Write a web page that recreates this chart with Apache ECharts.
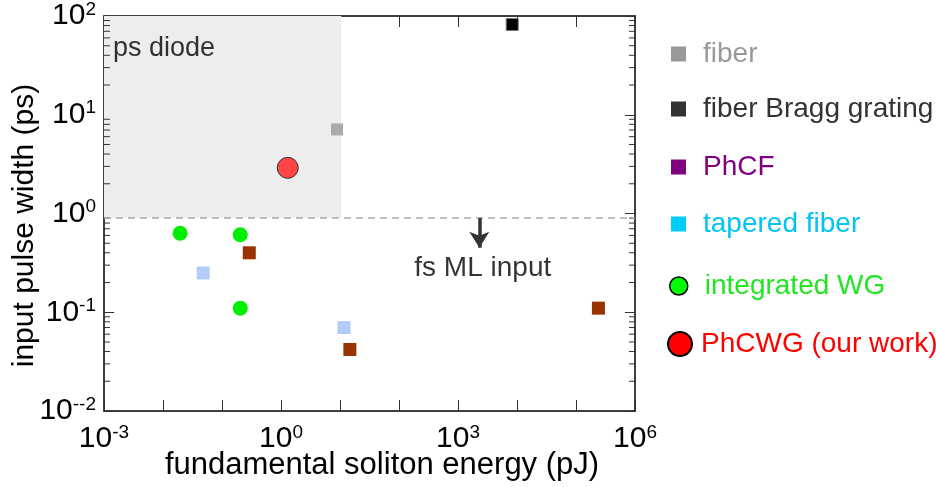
<!DOCTYPE html>
<html>
<head>
<meta charset="utf-8">
<script src="https://cdn.jsdelivr.net/npm/echarts@6/dist/echarts.min.js"></script>
<style>
  html, body { margin: 0; padding: 0; background: #fff; }
  #chart { width: 936px; height: 487px; }
</style>
</head>
<body>
<div id="chart"></div>
<script>
// points are [fundamental soliton energy (pJ), input pulse width (ps)]
var fiber = [[8.9, 7.1]]
var fiberBragg = [[8300, 82]]
var phcf = [[0.29, 0.40], [14.7, 0.042], [2.4e5, 0.11]]
var taperedFiber = [[0.048, 0.25], [11.7, 0.07]]
var integratedWG = [[0.0195, 0.63], [0.204, 0.61], [0.204, 0.11]]
var phcwg = [[1.3, 2.9]]

// annotations
var psDiodeBox = [[0.001, 0.9], [10.5, 100]]
var fsLimit = 0.9
var fsArrow = [[2300, 0.9], [2300, 0.45]]
var notes = [
  { name: 'ps diode', value: [0.00142, 47] },
  { name: 'fs ML input', value: [2630, 0.28] }
]

// tick labels
var xLabelExps = [-3, 0, 3, 6]
var yLabelSups = { '-2': '--2', '-1': '-1', '0': '0', '1': '1', '2': '2' }
var yMinorSteps = [2, 3, 4, 5, 6, 7, 8, 9]
var yDecades = [0.01, 0.1, 1, 10]

var FONT = '"Liberation Sans", Arial, sans-serif'
var INK = '#000'

var yMinorTicks = []
yDecades.forEach(function (d) {
  yMinorSteps.forEach(function (m) { yMinorTicks.push([1, d * m]) })
})

var supRich = {
  b: { fontSize: 30, fontFamily: FONT, color: INK, lineHeight: 32 },
  s: { fontSize: 19, fontFamily: FONT, color: INK, verticalAlign: 'top', lineHeight: 32, padding: [0, 0, 9, 0] }
}

function expOf(v) {
  return Math.round(Math.log(v) / Math.LN10)
}

var legendRows = [
  { name: 'fiber', top: 35, left: 666, size: 15, icon: 'rect', color: '#999999', text: '#999999', pad: 12 },
  { name: 'fiber Bragg grating', top: 90, left: 666, size: 15, icon: 'rect', color: '#333333', text: '#333333', pad: 12 },
  { name: 'PhCF', top: 148, left: 666, size: 15, icon: 'rect', color: '#800080', text: '#800080', pad: 12 },
  { name: 'tapered fiber', top: 205, left: 666, size: 15, icon: 'rect', color: '#00ccff', text: '#00c4f4', pad: 12 },
  { name: 'integrated WG', top: 267, left: 664, size: 18, icon: 'circle', color: '#00ff00', text: '#22e622', pad: 12, border: 1.5 },
  { name: 'PhCWG (our work)', top: 325, left: 662, size: 24, icon: 'circle', color: '#ff0000', text: '#ff0000', pad: 4, border: 2 }
]

var legends = legendRows.map(function (r) {
  return {
    left: r.left,
    top: r.top,
    orient: 'vertical',
    itemWidth: r.size,
    itemHeight: r.size,
    selectedMode: false,
    data: [{
      name: r.name,
      icon: r.icon,
      itemStyle: { color: r.color, borderColor: '#000', borderWidth: r.border || 0 },
      textStyle: { color: r.text, fontSize: 28, fontFamily: FONT, padding: [0, 0, 0, r.pad] }
    }]
  }
})

function baseX(pos) {
  return {
    type: 'log',
    logBase: 10,
    min: 0.001,
    max: 1e6,
    interval: 1,
    position: pos,
    axisLine: { show: true, onZero: false, lineStyle: { color: '#000', width: 1.5 } },
    axisTick: { show: true, inside: true, length: 11, lineStyle: { color: '#333', width: 1 } },
    splitLine: { show: false }
  }
}

function baseY(pos) {
  return {
    type: 'log',
    logBase: 10,
    min: 0.01,
    max: 100,
    interval: 1,
    position: pos,
    axisLine: { show: true, onZero: false, lineStyle: { color: '#000', width: 1.5 } },
    axisTick: { show: true, inside: true, length: 10, lineStyle: { color: '#333', width: 1 } },
    splitLine: { show: false }
  }
}

var xBottom = baseX('bottom')
xBottom.name = 'fundamental soliton energy (pJ)'
xBottom.nameLocation = 'middle'
xBottom.nameGap = 39
xBottom.nameMoveOverlap = false
xBottom.nameTextStyle = { fontSize: 31, fontFamily: FONT, color: INK, padding: [0, 0, 0, 25] }
xBottom.axisLabel = {
  margin: 12,
  formatter: function (v) {
    var e = expOf(v)
    return xLabelExps.indexOf(e) >= 0 ? '{b|10}{s|' + e + '}' : ''
  },
  rich: supRich
}
var xTop = baseX('top')
xTop.axisLabel = { show: false }

var yLeft = baseY('left')
yLeft.name = 'input pulse width (ps)'
yLeft.nameLocation = 'middle'
yLeft.nameGap = 64
yLeft.nameMoveOverlap = false
yLeft.nameTextStyle = { fontSize: 30, fontFamily: FONT, color: INK, padding: [0, 24, 0, 0] }
yLeft.axisLabel = {
  margin: 8,
  formatter: function (v) {
    return '{b|10}{s|' + yLabelSups[String(expOf(v))] + '}'
  },
  rich: supRich
}
var yRight = baseY('right')
yRight.axisLabel = { show: false }

var chart = echarts.init(document.getElementById('chart'), null, { renderer: 'canvas' })

chart.setOption({
  animation: false,
  grid: { left: 104, right: 301, top: 16, bottom: 76, containLabel: false, outerBoundsMode: 'none' },
  legend: legends,
  xAxis: [xBottom, xTop],
  yAxis: [yLeft, yRight],
  series: [
    {
      type: 'scatter',
      name: 'shading',
      data: [],
      silent: true,
      markArea: {
        silent: true,
        itemStyle: { color: '#ededed' },
        data: [[{ coord: psDiodeBox[0] }, { coord: psDiodeBox[1] }]]
      },
      markLine: {
        silent: true,
        symbol: 'none',
        label: { show: false },
        lineStyle: { color: '#aaaaaa', type: [7, 5], width: 1.5 },
        data: [{ yAxis: fsLimit }]
      }
    },
    {
      type: 'scatter',
      name: 'arrow',
      data: [],
      silent: true,
      markLine: {
        silent: true,
        label: { show: false },
        symbolSize: [15, 16],
        lineStyle: { color: '#333', type: 'solid', width: 3.5 },
        data: [[
          { coord: fsArrow[0], symbol: 'none' },
          { coord: fsArrow[1], symbol: 'arrow' }
        ]]
      }
    },
    {
      type: 'custom',
      name: 'minor',
      silent: true,
      clip: false,
      data: yMinorTicks,
      encode: { x: 0, y: 1 },
      renderItem: function (params, api) {
        var cs = params.coordSys
        var y = api.coord([1, api.value(1)])[1]
        return {
          type: 'group',
          children: [
            { type: 'line', shape: { x1: cs.x, y1: y, x2: cs.x + 6, y2: y }, style: { stroke: '#333', lineWidth: 1 } },
            { type: 'line', shape: { x1: cs.x + cs.width, y1: y, x2: cs.x + cs.width - 6, y2: y }, style: { stroke: '#333', lineWidth: 1 } }
          ]
        }
      }
    },
    {
      type: 'scatter', name: 'fiber', data: fiber,
      symbol: 'rect', symbolSize: 12,
      itemStyle: { color: '#aaaaaa', opacity: 1 }
    },
    {
      type: 'scatter', name: 'fiber Bragg grating', data: fiberBragg,
      symbol: 'rect', symbolSize: 12,
      itemStyle: { color: '#000', borderColor: '#777', borderWidth: 1, opacity: 1 }
    },
    {
      type: 'scatter', name: 'PhCF', data: phcf,
      symbol: 'rect', symbolSize: 13,
      itemStyle: { color: '#993300', opacity: 1 }
    },
    {
      type: 'scatter', name: 'tapered fiber', data: taperedFiber,
      symbol: 'rect', symbolSize: 13,
      itemStyle: { color: '#b3ccf8', opacity: 1 }
    },
    {
      type: 'scatter', name: 'integrated WG', data: integratedWG,
      symbol: 'circle', symbolSize: 15,
      itemStyle: { color: '#00ee00', opacity: 1 }
    },
    {
      type: 'scatter', name: 'PhCWG (our work)', data: phcwg,
      symbol: 'circle', symbolSize: 21,
      itemStyle: { color: '#ff4646', borderColor: '#333', borderWidth: 1, opacity: 1 }
    },
    {
      type: 'scatter', name: 'notes',
      data: [
        { name: notes[0].name, value: notes[0].value, label: { position: 'right', distance: 0 } },
        { name: notes[1].name, value: notes[1].value, label: { position: 'inside', fontSize: 28 } }
      ],
      symbolSize: 0,
      silent: true,
      label: {
        show: true,
        formatter: '{b}',
        fontSize: 27,
        fontFamily: FONT,
        color: INK
      },
      emphasis: { disabled: true }
    }
  ]
})
</script>
</body>
</html>
